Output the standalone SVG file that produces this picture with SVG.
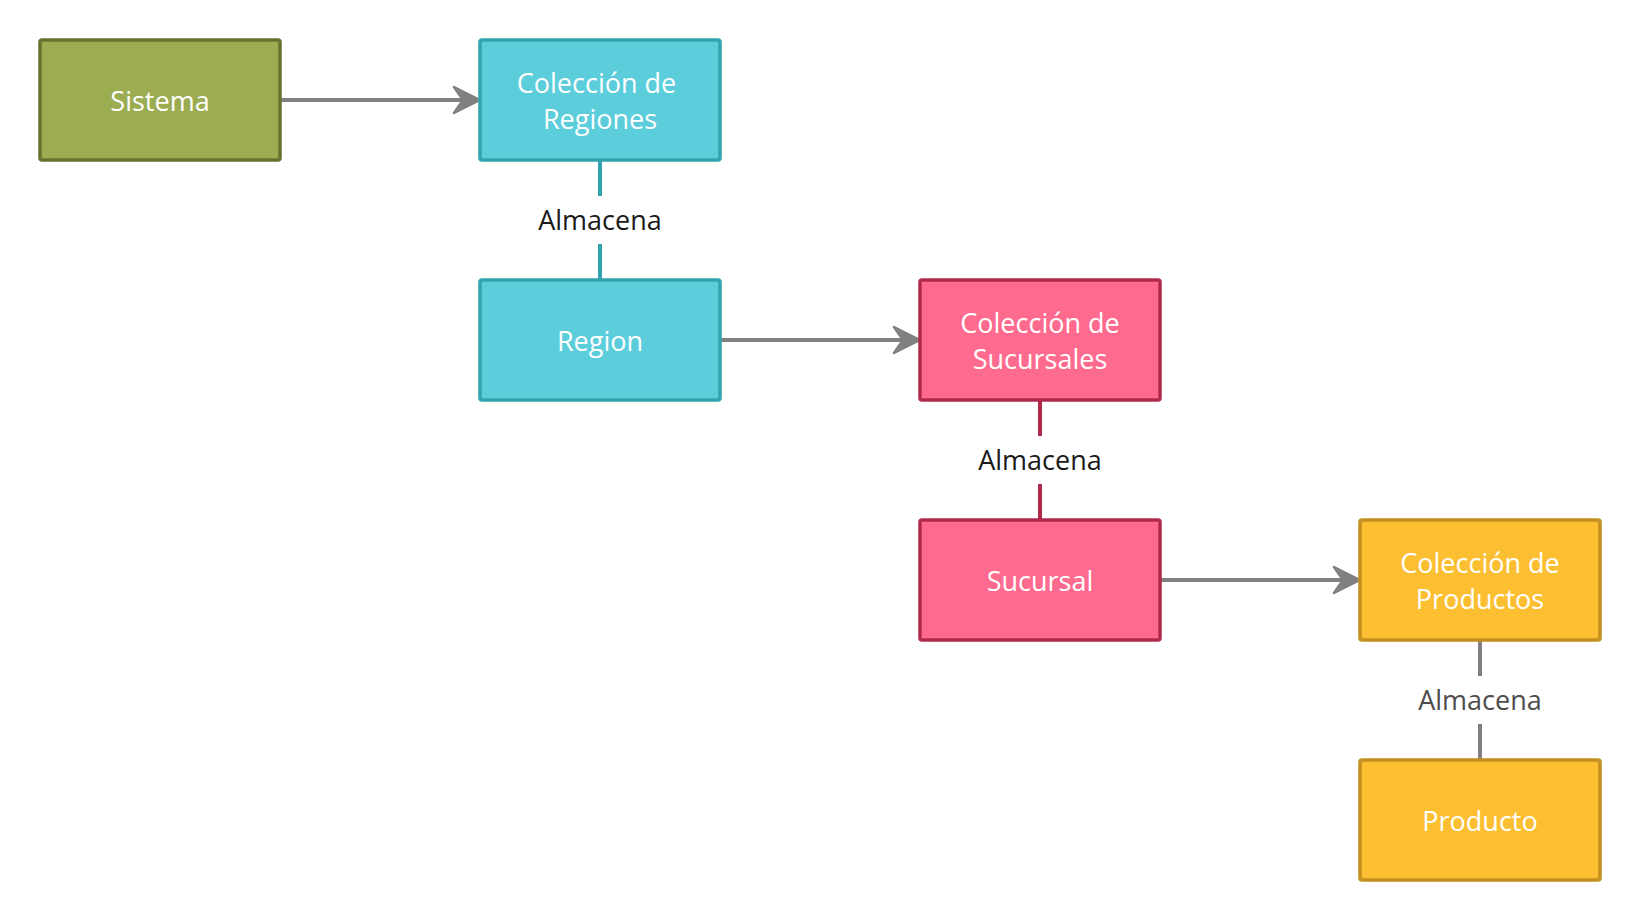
<svg xmlns="http://www.w3.org/2000/svg" width="1640" height="920" viewBox="0 0 1640 920">
<style>
.node rect{stroke-width:3.5}
.nt{font-family:"Open Sans","Liberation Sans",sans-serif;font-size:27px;fill:#ffffff;text-anchor:middle}
.lbl{font-family:"Open Sans","Liberation Sans",sans-serif;font-size:27px;text-anchor:middle}
.green rect{fill:#9bac51;stroke:#69722d}
.cyan rect{fill:#5ccdda;stroke:#2fa5b0}
.pink rect{fill:#ff6b8e;stroke:#b0294c}
.yellow rect{fill:#fdbf32;stroke:#c48e1f}
.arrow{stroke:#808080;stroke-width:4;fill:none}
.head{fill:#808080;stroke:#808080;stroke-width:2.5;stroke-linejoin:round}
.link{stroke-width:4;fill:none}
</style>
<rect width="1640" height="920" fill="#ffffff"/>
<g id="connectors">
  <line class="arrow" x1="280" y1="100" x2="476" y2="100"/>
  <path class="head" d="M480 100 L454 87 L463 100 L454 113 Z"/>
  <line class="arrow" x1="720" y1="340" x2="916" y2="340"/>
  <path class="head" d="M920 340 L894 327 L903 340 L894 353 Z"/>
  <line class="arrow" x1="1160" y1="580" x2="1356" y2="580"/>
  <path class="head" d="M1360 580 L1334 567 L1343 580 L1334 593 Z"/>
  <g id="link1">
    <line class="link" stroke="#2fa5b0" x1="600" y1="160" x2="600" y2="196"/>
    <line class="link" stroke="#2fa5b0" x1="600" y1="244" x2="600" y2="280"/>
    <text class="lbl" x="600" y="230" fill="#1a1a1a">Almacena</text>
  </g>
  <g id="link2">
    <line class="link" stroke="#b0294c" x1="1040" y1="400" x2="1040" y2="436"/>
    <line class="link" stroke="#b0294c" x1="1040" y1="484" x2="1040" y2="520"/>
    <text class="lbl" x="1040" y="470" fill="#1a1a1a">Almacena</text>
  </g>
  <g id="link3">
    <line class="link" stroke="#808080" x1="1480" y1="640" x2="1480" y2="676"/>
    <line class="link" stroke="#808080" x1="1480" y1="724" x2="1480" y2="760"/>
    <text class="lbl" x="1480" y="710" fill="#4d4d4d">Almacena</text>
  </g>
</g>
<g id="sistema" class="node green">
  <rect x="40" y="40" width="240" height="120" rx="2"/>
  <text class="nt" x="160" y="111">Sistema</text>
</g>
<g id="coleccion-regiones" class="node cyan">
  <rect x="480" y="40" width="240" height="120" rx="2"/>
  <text class="nt" x="596.5" y="92.5">Colección de</text>
  <text class="nt" x="600" y="128.5">Regiones</text>
</g>
<g id="region" class="node cyan">
  <rect x="480" y="280" width="240" height="120" rx="2"/>
  <text class="nt" x="600" y="351">Region</text>
</g>
<g id="coleccion-sucursales" class="node pink">
  <rect x="920" y="280" width="240" height="120" rx="2"/>
  <text class="nt" x="1040" y="332.5">Colección de</text>
  <text class="nt" x="1040" y="368.5">Sucursales</text>
</g>
<g id="sucursal" class="node pink">
  <rect x="920" y="520" width="240" height="120" rx="2"/>
  <text class="nt" x="1040" y="591">Sucursal</text>
</g>
<g id="coleccion-productos" class="node yellow">
  <rect x="1360" y="520" width="240" height="120" rx="2"/>
  <text class="nt" x="1480" y="572.5">Colección de</text>
  <text class="nt" x="1480" y="608.5">Productos</text>
</g>
<g id="producto" class="node yellow">
  <rect x="1360" y="760" width="240" height="120" rx="2"/>
  <text class="nt" x="1480" y="831">Producto</text>
</g>
</svg>
